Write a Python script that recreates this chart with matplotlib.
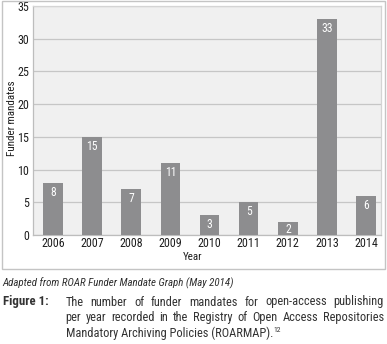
import matplotlib
matplotlib.use('Agg')
import matplotlib.pyplot as plt
from matplotlib import font_manager
from matplotlib.font_manager import FontProperties
from matplotlib.patches import Rectangle
from matplotlib.transforms import IdentityTransform

# ---- data ----
years = ['2006', '2007', '2008', '2009', '2010', '2011', '2012', '2013', '2014']
mandates = [8, 15, 7, 11, 3, 5, 2, 33, 6]
yticks = [0, 5, 10, 15, 20, 25, 30, 35]
ylabel = 'Funder mandates'
xlabel = 'Year'
source = 'Adapted from ROAR Funder Mandate Graph (May 2014)'
fig_label = 'Figure 1:'
caption_lines = [
    'The number of funder mandates for open-access publishing',
    'per year recorded in the Registry of Open Access Repositories',
    'Mandatory Archiving Policies (ROARMAP).',
]
footnote = '12'

# ---- font: a condensed sans if available ----
avail = {f.name for f in font_manager.fontManager.ttflist}
FAMILY = 'DejaVu Sans'
STRETCH = 'normal'
for cand in ['Roboto Condensed', 'Liberation Sans Narrow', 'Open Sans Condensed', 'DejaVu Sans Condensed']:
    if cand in avail:
        FAMILY = cand
        break
else:
    STRETCH = 'condensed'
plt.rcParams['font.family'] = [FAMILY, 'DejaVu Sans']
plt.rcParams['font.stretch'] = STRETCH

W, H = 387, 344
fig = plt.figure(figsize=(W / 100, H / 100), dpi=100)
fig.patch.set_facecolor('white')
renderer = fig.canvas.get_renderer()


def text_w(s, size, **kw):
    fp = FontProperties(family=[FAMILY, 'DejaVu Sans'], stretch=STRETCH, size=size, **kw)
    w, h, d = renderer.get_text_width_height_descent(s, fp, ismath=False)
    return w


def fit(s, target, **kw):
    return 10.0 * target / text_w(s, 10.0, **kw)


TICK = fit('2006', 23.4)
BARLBL = fit('33', 11.5)
YLAB = fit(ylabel, 75.0)
SRC = fit(source, 229.0, style='italic')
FIGL = fit(fig_label, 45.6, weight='bold')
CAP = fit('Mandatory Archiving', 101.0)

# outer frame around chart
frame = Rectangle((2 / W, 1 - 269 / H), 383 / W, 268 / H, transform=fig.transFigure,
                  fill=False, edgecolor='#c4c4c4', linewidth=1.0)
fig.add_artist(frame)

L, R, T, B = 33, 381, 6, 235
ax = fig.add_axes([L / W, 1 - B / H, (R - L) / W, (B - T) / H])
ax.set_facecolor('#f0f0f0')
x = list(range(len(years)))
ax.bar(x, mandates, width=0.5, color='#8d8d8f', zorder=3)
ax.set_xlim(-0.51, 8.38)
ax.set_ylim(0, 35)
ax.set_yticks(yticks)
ax.set_xticks(x)
ax.set_xticklabels(years)
ax.yaxis.grid(True, color='#c6c6c6', linewidth=0.9, zorder=0)
ax.tick_params(axis='both', length=0, labelsize=TICK, colors='#1e1e1e')
ax.tick_params(axis='y', pad=3.0)
ax.tick_params(axis='x', pad=1.5)
for side in ['top', 'right']:
    ax.spines[side].set_color('#d4d4d4')
for side in ['left', 'bottom']:
    ax.spines[side].set_color('#bdbdbd')
for sp in ax.spines.values():
    sp.set_linewidth(0.9)

# value labels inside bar tops; keep them inside short bars
px_per_unit = (B - T) / 35.0
for xi, v in zip(x, mandates):
    bar_px = v * px_per_unit
    off_px = min(3.0, bar_px - 12.0)
    off_px = max(off_px, 0.5)
    ax.annotate(str(v), (xi, v), xytext=(0, -off_px * 0.72), textcoords='offset points',
                ha='center', va='top', color='white', fontsize=BARLBL, zorder=4)


def ptext(px, py, s, **kw):
    return fig.text(px, H - py, s, transform=IdentityTransform(), **kw)


ptext(12, 118, ylabel, rotation=90, ha='center', va='center', fontsize=YLAB, color='#1e1e1e')
ptext(193, 257, xlabel, ha='center', va='center', fontsize=YLAB, color='#1e1e1e')

ptext(2.7, 286, source, ha='left', va='baseline', fontsize=SRC, style='italic', color='#2e2e2e')
ptext(2.7, 305.5, fig_label, ha='left', va='baseline', fontsize=FIGL, weight='bold', color='#333333')

X0, X1 = 65.5, 384.0


def justify_line(text, py):
    words = text.split()
    widths = [text_w(w, CAP) for w in words]
    gap = (X1 - X0 - sum(widths)) / (len(words) - 1)
    cx = X0
    for wd, w in zip(words, widths):
        ptext(cx, py, wd, ha='left', va='baseline', fontsize=CAP, color='#333333')
        cx += w + gap


justify_line(caption_lines[0], 305.5)
justify_line(caption_lines[1], 321.0)
ptext(X0, 336.5, caption_lines[2], ha='left', va='baseline', fontsize=CAP, color='#333333')
end3 = X0 + text_w(caption_lines[2], CAP)
ptext(end3 + 0.8, 331.5, footnote, ha='left', va='baseline', fontsize=CAP * 0.6, color='#333333')

fig.savefig('out.png', dpi=100)
